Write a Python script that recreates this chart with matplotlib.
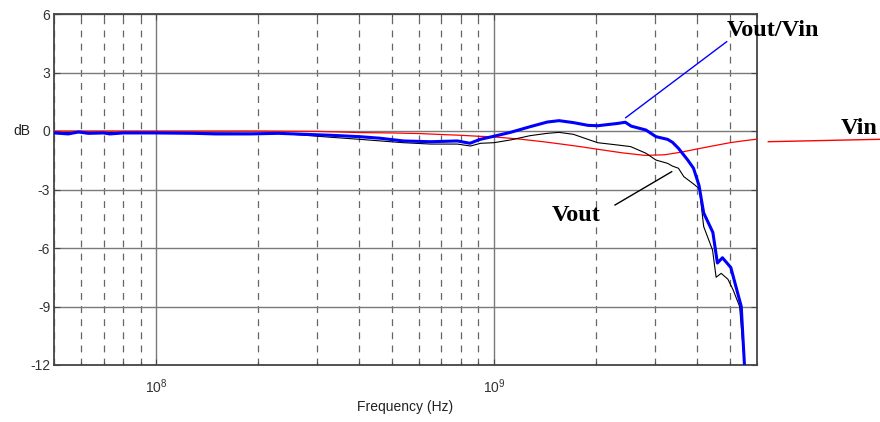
import matplotlib
matplotlib.use("Agg")
import matplotlib.pyplot as plt
from matplotlib.lines import Line2D
from matplotlib.ticker import LogLocator, NullFormatter, LogFormatterSciNotation

plt.rcParams['axes.unicode_minus'] = False

# Dados (frequencia em Hz, ganho em dB)
freq_vin = [5e7, 1e8, 2e8, 3e8, 4e8, 5e8, 6e8, 7e8, 8e8, 9e8, 1e9, 1.2e9, 1.4e9,
            1.6e9, 1.8e9, 2e9, 2.4e9, 2.8e9, 3.2e9, 3.6e9, 4e9, 4.5e9, 5e9, 5.5e9, 6e9]
db_vin = [0.0, 0.0, 0.0, -0.02, -0.08, -0.1, -0.13, -0.18, -0.22, -0.27, -0.3, -0.42, -0.55,
          -0.68, -0.8, -0.92, -1.12, -1.25, -1.22, -1.08, -0.92, -0.75, -0.6, -0.5, -0.42]

freq_ratio = [5e7, 5.5e7, 5.9e7, 6.3e7, 7e7, 7.3e7, 8e7, 1e8, 1.3e8, 1.5e8, 1.9e8, 2.3e8,
              3.3e8, 4e8, 4.6e8, 5.4e8, 6.5e8, 7.8e8, 8.5e8, 9.1e8, 1e9, 1.12e9, 1.28e9,
              1.44e9, 1.56e9, 1.72e9, 1.9e9, 2.03e9, 2.33e9, 2.45e9, 2.55e9, 2.82e9, 3.02e9,
              3.27e9, 3.38e9, 3.52e9, 3.75e9, 3.9e9, 4.0e9, 4.05e9, 4.18e9, 4.45e9, 4.59e9,
              4.75e9, 5.03e9, 5.4e9, 5.52e9]
db_ratio = [-0.1, -0.15, -0.05, -0.12, -0.1, -0.15, -0.1, -0.1, -0.12, -0.15, -0.15, -0.12,
            -0.22, -0.29, -0.37, -0.51, -0.55, -0.51, -0.63, -0.43, -0.27, -0.07, 0.22,
            0.46, 0.53, 0.43, 0.29, 0.27, 0.39, 0.45, 0.25, 0.05, -0.29,
            -0.43, -0.58, -0.89, -1.49, -1.91, -2.5, -2.8, -4.2, -5.2, -6.77,
            -6.5, -7.0, -9.0, -12.0]

freq_vout = [5e7, 1e8, 2e8, 2.33e8, 3.28e8, 4.03e8, 4.62e8, 5.4e8, 6.5e8, 7.8e8, 8.53e8,
             9.14e8, 1e9, 1.12e9, 1.28e9, 1.44e9, 1.56e9, 1.72e9, 1.9e9, 2.03e9, 2.33e9,
             2.54e9, 2.82e9, 3.02e9, 3.27e9, 3.38e9, 3.52e9, 3.65e9, 3.89e9, 4.02e9, 4.06e9,
             4.18e9, 4.44e9, 4.55e9, 4.71e9, 4.93e9, 5.11e9, 5.34e9, 5.52e9]
db_vout = [-0.08, -0.08, -0.12, -0.12, -0.32, -0.43, -0.51, -0.6, -0.67, -0.67, -0.77,
           -0.63, -0.6, -0.46, -0.24, -0.12, -0.07, -0.17, -0.43, -0.6, -0.72,
           -0.8, -1.14, -1.49, -1.66, -1.8, -1.91, -2.34, -2.7, -2.9, -2.95,
           -4.9, -6.1, -7.5, -7.3, -7.6, -8.15, -9.0, -12.0]

y_ticks = [6, 3, 0, -3, -6, -9, -12]

COR_GRADE = '#7a7a7a'
COR_EIXO = '#454545'

fig = plt.figure(figsize=(8.8, 4.22), dpi=100)
ax = fig.add_axes([54.3 / 880, 57 / 422, (756.7 - 54.3) / 880, (365 - 14) / 422])

ax.set_xscale('log')
ax.set_xlim(5e7, 6e9)
ax.set_ylim(-12, 6)
ax.set_yticks(y_ticks)

# grade estilo matlab
ax.xaxis.set_major_locator(LogLocator(base=10, numticks=10))
ax.xaxis.set_minor_locator(LogLocator(base=10, subs=range(2, 10), numticks=10))
ax.xaxis.set_major_formatter(LogFormatterSciNotation())
ax.xaxis.set_minor_formatter(NullFormatter())
ax.grid(which='major', axis='both', color=COR_GRADE, linestyle='-', linewidth=1.0)
ax.grid(which='minor', axis='x', color='#666666', linestyle=(0, (5.5, 5)), linewidth=0.9)
ax.set_axisbelow(True)

for lado in ax.spines.values():
    lado.set_color(COR_EIXO)
    lado.set_linewidth(1.3)

fonte_eixo = ['Liberation Sans Narrow', 'Liberation Sans', 'DejaVu Sans']
ax.tick_params(which='both', direction='in', top=True, right=True, colors=COR_EIXO,
               labelcolor='#333333', labelsize=10, length=4, width=0.8)
ax.tick_params(axis='x', which='major', pad=9)
ax.tick_params(axis='y', pad=3)
ax.tick_params(which='minor', length=2)
for rot in ax.get_yticklabels() + ax.get_xticklabels():
    rot.set_family(fonte_eixo)

ax.plot(freq_vin, db_vin, color='red', linewidth=0.9, zorder=3)
ax.plot(freq_vout, db_vout, color='black', linewidth=0.8, zorder=4)
ax.plot(freq_ratio, db_ratio, color='blue', linewidth=2.2, zorder=5)

ax.set_xlabel('Frequency (Hz)', fontsize=10, family=fonte_eixo, labelpad=3,
              color='#222222')
fig.text(22 / 880, 1 - 131 / 422, 'dB', fontsize=10, family=fonte_eixo,
         ha='center', va='center', color='#222222')

# rotulos das curvas com linhas de chamada (em pixels da figura)
def px(x, y):
    return x / 880, 1 - y / 422

fonte_rotulo = dict(family=['Liberation Serif', 'DejaVu Serif'], weight='bold', fontsize=17.5)
fig.text(*px(727, 30), 'Vout/Vin', ha='left', va='center', **fonte_rotulo)
fig.text(*px(878, 128), 'Vin', ha='right', va='center', **fonte_rotulo)
fig.text(*px(552, 216), 'Vout', ha='left', va='center', **fonte_rotulo)

chamadas = [((625.7, 117.7), (726.7, 41.7), 'blue'),
            ((768.3, 141.7), (880, 139.3), 'red'),
            ((615, 205), (671.7, 171.7), 'black')]
for a, b, cor in chamadas:
    xa, ya = px(*a)
    xb, yb = px(*b)
    fig.add_artist(Line2D([xa, xb], [ya, yb], transform=fig.transFigure,
                          color=cor, linewidth=1.0))

fig.savefig('out.png', dpi=100)
